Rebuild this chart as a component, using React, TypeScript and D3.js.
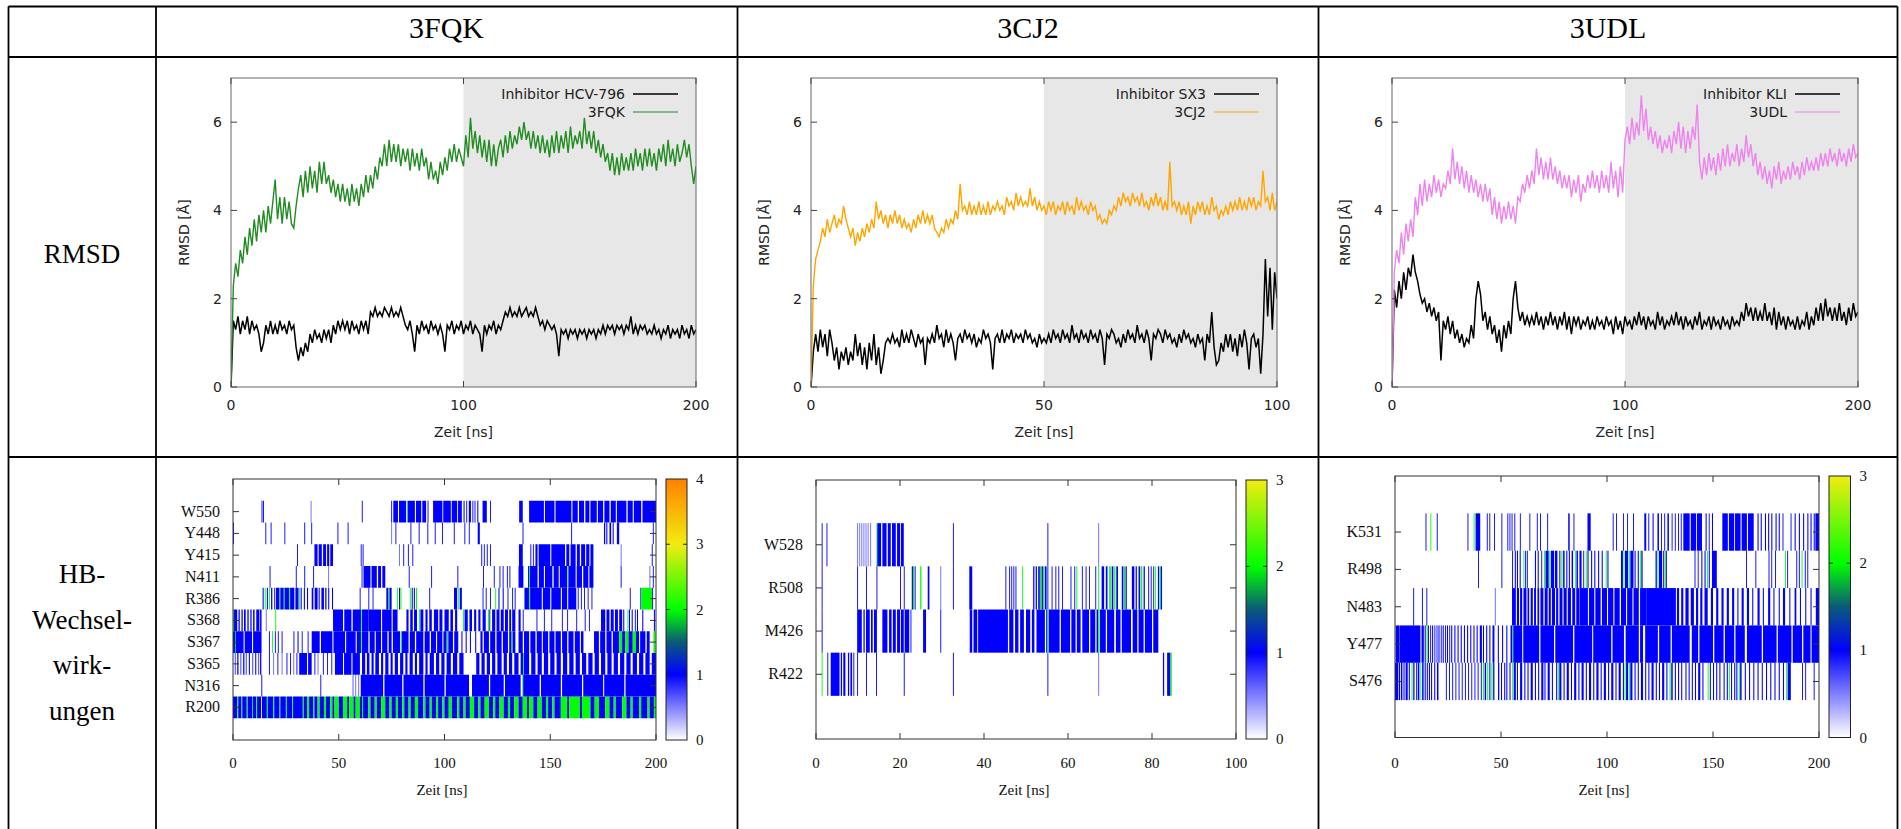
import React from 'react';
import * as d3 from 'd3';

// ---------- RMSD data (Å) ----------
// 3FQK panel, 1 ns steps, 0..200 ns
const rmsdInhibitorHCV796: number[] = [
  0, 1.5, 1.3, 1.6, 1.2, 1.5, 1.3, 1.6, 1.2, 1.5,
  1.3, 1.4, 1.2, 0.8, 1.0, 1.4, 1.2, 1.5, 1.2, 1.4,
  1.2, 1.5, 1.3, 1.4, 1.2, 1.5, 1.3, 1.4, 0.9, 0.6,
  0.9, 0.7, 1.0, 0.8, 1.2, 1.0, 1.3, 1.1, 1.2, 1.0,
  1.3, 1.1, 1.3, 1.0, 1.4, 1.2, 1.5, 1.3, 1.5, 1.3,
  1.5, 1.2, 1.5, 1.3, 1.4, 1.2, 1.5, 1.3, 1.5, 1.2,
  1.7, 1.6, 1.8, 1.6, 1.7, 1.6, 1.8, 1.7, 1.6, 1.8,
  1.6, 1.7, 1.6, 1.8, 1.6, 1.4, 1.3, 1.5, 1.2, 0.8,
  1.4, 1.2, 1.5, 1.3, 1.4, 1.2, 1.5, 1.3, 1.4, 1.2,
  1.4, 1.2, 0.8, 1.4, 1.3, 1.5, 1.2, 1.4, 1.3, 1.5,
  1.2, 1.4, 1.3, 1.5, 1.2, 1.4, 1.3, 1.2, 0.8, 1.4,
  1.2, 1.4, 1.3, 1.5, 1.2, 1.4, 1.3, 1.5, 1.7, 1.6,
  1.8, 1.6, 1.7, 1.6, 1.8, 1.6, 1.7, 1.8, 1.6, 1.7,
  1.6, 1.8, 1.6, 1.4, 1.5, 1.3, 1.5, 1.4, 1.3, 1.4,
  1.2, 0.7, 1.3, 1.2, 1.3, 1.1, 1.3, 1.2, 1.3, 1.1,
  1.3, 1.2, 1.3, 1.1, 1.3, 1.2, 1.3, 1.1, 1.3, 1.2,
  1.4, 1.2, 1.4, 1.3, 1.4, 1.2, 1.4, 1.3, 1.4, 1.2,
  1.4, 1.3, 1.6, 1.2, 1.4, 1.2, 1.4, 1.3, 1.4, 1.2,
  1.3, 1.2, 1.4, 1.2, 1.3, 1.1, 1.3, 1.2, 1.4, 1.1,
  1.3, 1.2, 1.3, 1.1, 1.4, 1.2, 1.3, 1.1, 1.4, 1.2,
  1.3,
];
const rmsd3FQK: number[] = [
  0, 2.3, 2.8, 2.5, 3.1, 2.8, 3.4, 3.0, 3.6, 3.2,
  3.8, 3.3, 3.9, 3.5, 4.0, 3.5, 4.1, 3.7, 4.2, 4.7,
  3.8, 4.3, 3.7, 4.3, 3.8, 4.2, 3.7, 3.6, 4.1, 4.5,
  4.8, 4.3, 4.9, 4.4, 5.0, 4.5, 4.9, 4.4, 5.1, 4.6,
  5.1, 4.6, 4.8, 4.4, 4.7, 4.3, 4.6, 4.2, 4.6, 4.2,
  4.5, 4.1, 4.6, 4.2, 4.5, 4.1, 4.6, 4.3, 4.8, 4.4,
  4.8, 4.5, 5.0, 4.7, 5.2, 5.0, 5.5, 5.0, 5.6, 5.1,
  5.5, 5.1, 5.5, 5.0, 5.4, 5.1, 5.4, 4.9, 5.4, 5.0,
  5.3, 4.9, 5.4, 5.0, 5.2, 4.7, 5.1, 4.7, 4.9, 4.6,
  5.1, 4.8, 5.2, 4.9, 5.4, 5.1, 5.5, 5.1, 5.4, 5.2,
  5.0, 5.7, 5.2, 6.1, 5.4, 5.8, 5.3, 5.7, 5.2, 5.6,
  5.1, 5.6, 5.0, 5.5, 5.0, 5.4, 5.6, 5.2, 5.7, 5.3,
  5.8, 5.4, 5.7, 5.5, 5.9, 5.6, 6.0, 5.6, 5.8, 5.4,
  5.8, 5.4, 5.7, 5.3, 5.7, 5.3, 5.6, 5.2, 5.7, 5.3,
  5.8, 5.3, 5.7, 5.4, 5.8, 5.3, 5.9, 5.4, 5.7, 5.5,
  5.8, 5.4, 6.1, 5.5, 5.8, 5.4, 5.8, 5.3, 5.6, 5.2,
  5.5, 5.1, 5.3, 4.9, 5.3, 4.8, 5.2, 4.8, 5.3, 4.9,
  5.2, 4.9, 5.3, 4.9, 5.4, 5.0, 5.3, 4.9, 5.4, 5.0,
  5.4, 5.0, 5.3, 4.9, 5.4, 5.1, 5.5, 5.0, 5.6, 5.1,
  5.4, 5.0, 5.5, 5.1, 5.3, 5.6, 5.2, 5.5, 5.0, 4.6,
  5.0,
];
// 3CJ2 panel, 0.5 ns steps, 0..100 ns
const rmsdInhibitorSX3: number[] = [
  0, 0.8, 1.2, 0.8, 1.3, 0.9, 1.2, 0.7, 1.3, 1.0,
  0.6, 0.9, 0.4, 0.8, 0.6, 0.9, 0.5, 0.8, 0.6, 1.2,
  0.7, 1.0, 0.5, 0.9, 0.4, 1.0, 0.6, 1.2, 0.5, 0.9,
  0.3, 0.6, 1.0, 1.1, 1.0, 1.2, 1.0, 1.1, 0.9, 1.3,
  1.0, 1.2, 1.0, 1.3, 1.1, 0.9, 1.2, 1.0, 1.1, 0.5,
  1.1, 1.0, 1.2, 1.0, 1.4, 1.1, 1.2, 0.9, 1.3, 1.0,
  1.2, 1.0, 0.6, 1.1, 1.2, 1.0, 1.3, 1.1, 1.2, 1.0,
  1.2, 0.9, 1.1, 1.0, 1.3, 1.1, 1.2, 1.0, 0.4, 1.1,
  1.2, 1.0, 1.3, 1.0, 1.2, 1.1, 1.3, 1.0, 1.2, 1.1,
  1.2, 1.0, 1.3, 1.1, 1.2, 1.0, 1.1, 0.9, 1.2, 1.0,
  1.1, 1.0, 1.2, 1.0, 1.3, 1.1, 1.2, 1.0, 1.3, 1.1,
  1.2, 1.0, 1.4, 1.1, 1.2, 1.0, 1.3, 1.1, 1.2, 1.0,
  1.3, 1.1, 1.2, 1.0, 1.3, 1.1, 0.5, 1.2, 1.1, 1.3,
  1.2, 1.0, 1.1, 0.9, 1.2, 1.0, 1.3, 1.1, 1.2, 1.0,
  1.4, 1.1, 1.2, 1.0, 1.3, 1.1, 0.6, 1.2, 1.1, 1.3,
  1.2, 1.0, 1.3, 1.1, 1.2, 1.0, 1.1, 0.9, 1.2, 1.0,
  1.3, 1.1, 1.2, 1.0, 1.1, 0.9, 1.2, 1.0, 1.1, 0.6,
  1.2, 1.0, 1.7, 0.9, 0.5, 0.6, 1.0, 0.8, 1.2, 0.9,
  1.2, 0.8, 1.1, 0.7, 1.2, 0.9, 1.3, 1.0, 0.4, 1.1,
  1.2, 0.9, 1.1, 0.3, 1.2, 2.9, 1.6, 2.7, 1.3, 2.6,
  2.0,
];
const rmsd3CJ2: number[] = [
  0, 2.3, 2.9, 3.1, 3.3, 3.6, 3.4, 3.8, 3.5, 3.7,
  3.9, 3.6, 3.8, 3.7, 4.1, 3.8, 3.6, 3.4, 3.6, 3.2,
  3.5, 3.3, 3.6, 3.4, 3.7, 3.5, 3.8, 3.6, 4.2, 3.8,
  4.0, 3.7, 3.9, 3.6, 3.9, 3.7, 4.0, 3.7, 3.9, 3.6,
  3.8, 3.6, 3.7, 3.5, 3.8, 3.6, 3.9, 3.7, 4.0, 3.7,
  3.9, 3.7, 3.9, 3.6, 3.5, 3.4, 3.6, 3.5, 3.8, 3.6,
  3.8, 3.7, 4.0, 3.8, 4.6, 4.0, 4.1, 3.9, 4.2, 3.9,
  4.1, 3.9, 4.2, 3.9, 4.1, 3.9, 4.2, 3.9, 4.1, 4.0,
  4.2, 4.0, 4.1, 3.9, 4.3, 4.1, 4.2, 4.0, 4.4, 4.1,
  4.3, 4.1, 4.2, 4.1, 4.5, 4.1, 4.3, 4.0, 4.2, 4.0,
  4.1, 3.9, 4.2, 4.0, 4.2, 3.9, 4.1, 4.0, 4.2, 3.9,
  4.2, 4.0, 4.1, 3.9, 4.3, 4.0, 4.2, 4.0, 4.1, 3.9,
  4.2, 4.0, 4.1, 3.8, 3.9, 3.7, 3.8, 3.7, 4.0, 3.9,
  4.1, 4.0, 4.3, 4.1, 4.4, 4.2, 4.3, 4.1, 4.4, 4.2,
  4.3, 4.1, 4.4, 4.1, 4.2, 4.0, 4.3, 4.1, 4.4, 4.1,
  4.3, 4.0, 4.2, 4.0, 5.1, 4.1, 4.2, 4.0, 4.2, 3.9,
  4.1, 3.9, 4.2, 3.7, 4.1, 3.9, 4.2, 4.0, 4.2, 3.9,
  4.1, 3.9, 4.3, 4.0, 4.1, 3.8, 4.0, 3.9, 4.1, 3.9,
  4.2, 4.0, 4.2, 4.0, 4.3, 4.0, 4.2, 4.0, 4.3, 4.1,
  4.3, 4.0, 4.2, 4.1, 4.9, 4.2, 4.3, 4.0, 4.4, 4.0,
  4.2,
];
// 3UDL panel, 1 ns steps, 0..200 ns
const rmsdInhibitorKLI: number[] = [
  0, 2.2, 1.8, 2.4, 2.0, 2.6, 2.2, 2.7, 2.5, 3.0,
  2.6, 2.4, 2.1, 1.9, 2.0, 1.7, 1.9, 1.6, 1.8, 1.5,
  1.7, 0.6, 1.5, 1.3, 1.6, 1.2, 1.5, 1.1, 1.3, 1.0,
  1.2, 0.9, 1.1, 1.0, 1.4, 1.1, 2.0, 2.4, 2.1, 1.5,
  1.7, 1.3, 1.6, 1.2, 1.4, 1.0, 1.3, 0.8, 1.4, 1.1,
  1.5, 1.2, 2.0, 2.4, 1.8, 1.5, 1.7, 1.4, 1.6, 1.4,
  1.6, 1.4, 1.7, 1.4, 1.6, 1.3, 1.6, 1.4, 1.7, 1.4,
  1.6, 1.3, 1.6, 1.4, 1.7, 1.3, 1.6, 1.2, 1.6, 1.4,
  1.6, 1.3, 1.5, 1.4, 1.6, 1.3, 1.5, 1.3, 1.6, 1.4,
  1.5, 1.3, 1.6, 1.4, 1.5, 1.2, 1.6, 1.3, 1.5, 1.2,
  1.6, 1.4, 1.5, 1.3, 1.6, 1.4, 1.7, 1.4, 1.6, 1.3,
  1.6, 1.4, 1.5, 1.3, 1.7, 1.4, 1.6, 1.3, 1.5, 1.4,
  1.6, 1.4, 1.7, 1.4, 1.6, 1.3, 1.6, 1.4, 1.5, 1.3,
  1.6, 1.4, 1.7, 1.3, 1.5, 1.4, 1.6, 1.3, 1.6, 1.4,
  1.5, 1.3, 1.6, 1.4, 1.5, 1.3, 1.6, 1.4, 1.5, 1.4,
  1.7, 1.5, 1.9, 1.6, 1.8, 1.5, 1.8, 1.5, 1.7, 1.5,
  1.9, 1.5, 1.7, 1.4, 1.8, 1.3, 1.7, 1.4, 1.6, 1.3,
  1.6, 1.4, 1.5, 1.3, 1.6, 1.3, 1.5, 1.4, 1.7, 1.3,
  1.6, 1.4, 1.8, 1.5, 1.9, 1.5, 2.0, 1.6, 1.8, 1.5,
  1.8, 1.5, 1.9, 1.5, 1.7, 1.4, 1.8, 1.5, 1.9, 1.6,
  1.7,
];
const rmsd3UDL: number[] = [
  0, 2.6, 3.1, 2.8, 3.5, 3.0, 3.7, 3.3, 3.8, 3.4,
  4.3, 3.9, 4.6, 4.1, 4.7, 4.2, 4.6, 4.3, 4.8, 4.4,
  4.7, 4.3, 4.6, 4.5, 4.9, 4.6, 5.4, 4.7, 5.1, 4.6,
  5.0, 4.5, 4.9, 4.4, 4.8, 4.4, 4.7, 4.3, 4.6, 4.2,
  4.6, 4.2, 4.5, 3.9, 4.3, 3.8, 4.2, 3.7, 4.1, 3.8,
  4.2, 3.8, 4.1, 3.7, 4.3, 4.2, 4.6, 4.4, 4.8, 4.5,
  4.9, 4.6, 5.4, 4.8, 5.2, 4.7, 5.1, 4.7, 5.2, 4.7,
  5.0, 4.6, 4.9, 4.5, 4.8, 4.5, 4.8, 4.3, 4.7, 4.4,
  4.8, 4.2, 4.6, 4.4, 4.8, 4.5, 4.9, 4.5, 4.8, 4.4,
  4.9, 4.5, 4.8, 4.4, 5.1, 4.5, 4.9, 4.3, 5.0, 4.4,
  5.6, 5.9, 5.5, 6.1, 5.6, 6.0, 5.7, 6.6, 5.8, 6.3,
  5.6, 5.9, 5.5, 5.8, 5.4, 5.7, 5.3, 5.6, 5.4, 5.7,
  5.3, 5.8, 5.5, 6.0, 5.4, 5.9, 5.3, 5.8, 5.4, 5.9,
  5.6, 6.4, 5.1, 4.7, 5.2, 4.8, 5.3, 4.9, 5.2, 4.8,
  5.3, 4.9, 5.4, 5.0, 5.5, 5.0, 5.3, 5.1, 5.5, 5.0,
  5.4, 5.1, 5.7, 5.2, 5.5, 5.0, 5.3, 4.8, 5.1, 4.7,
  5.0, 4.6, 4.9, 4.5, 5.0, 4.7, 5.1, 4.6, 4.9, 4.7,
  5.0, 4.7, 5.1, 4.8, 5.0, 4.7, 5.1, 4.8, 5.2, 4.9,
  5.1, 4.9, 5.2, 4.9, 5.3, 5.0, 5.3, 5.0, 5.4, 5.1,
  5.3, 5.0, 5.4, 5.1, 5.3, 5.0, 5.4, 5.1, 5.5, 5.2,
  5.3,
];

// ---------- HB interaction data: [start ns, end ns, number of H-bonds] ----------
type Seg = [number, number, number];
const hbResidues3FQK = ['R200', 'N316', 'S365', 'S367', 'S368', 'R386', 'N411', 'Y415', 'Y448', 'W550'];
const hbR200: Seg[] = [[0,2,1],[2,2.5,2],[2.5,4,1],[4,4.4,2],[4.4,6.5,1],[6.5,7,2],[7,9,1],[9,9.4,2],[9.4,11,1],[11,11.4,2],[11.4,13.3,1],[13.3,13.7,3],[13.7,16,1],[16,16.5,2],[16.5,19,1],[19,19.5,2],[19.5,22,1],[22,22.4,2],[22.4,25,1],[25,25.5,2],[25.5,28,1],[28,28.4,2],[28.4,33,1],[33,33.5,2],[33.5,35,1],[35,36,2],[36,38,1],[38,38.5,2],[38.5,40,1],[40,41,2],[41,43,1],[43,44,2],[44,46,1],[46,47,2],[47,48,1],[48,50,2],[50,52,1],[52,54,2],[54,55,1],[55,57,2],[57,58,1],[58,60,2],[60,61,1],[61,61.5,2],[61.5,64,1],[64,65,2],[65,67,1],[67,68,2],[68,70,1],[70,72,2],[72,74,1],[74,75,2],[75,77,1],[77,78,2],[78,80,1],[80,81,2],[81,83,1],[83,84,2],[84,86,1],[86,87.5,2],[87.5,90,1],[90,91,2],[91,93,1],[93,94,2],[94,96,1],[96,97,2],[97,99,1],[99,100,2],[100,102,1],[102,103.5,2],[103.5,106,1],[106,107,2],[107,109,1],[109,110,2],[110,112,1],[112,114,2],[114,116,1],[116,117,2],[117,119,1],[119,121,2],[121,123,1],[123,124,2],[124,126,1],[126,128,2],[128,130,1],[130,131,2],[131,133,1],[133,135,2],[135,137,1],[137,139,2],[139,140,1],[140,142,2],[142,144,1],[144,146,2],[146,148,1],[148,149,2],[149,151,1],[151,152,2],[152,155,1],[155,158,2],[158,159,1],[159,164,2],[164,165,1],[165,169,2],[169,171,1],[171,173,2],[173,176,1],[176,178,2],[178,180,1],[180,181,2],[181,184,1],[184,186,2],[186,188,1],[188,189,2],[189,192,1],[192,193,2],[193,196,1],[196,197,2],[197,199,1],[199,200,2]];
const hbN316: Seg[] = [[13.4,13.8,1],[41.3,41.6,1],[56.5,57,0.6],[57.8,58.2,0.6],[59.2,59.6,0.6],[60.4,71,1],[71.6,80,1],[80.6,90,1],[90.6,100,1],[100.6,111.6,1],[113,121,1],[121.6,128,1],[128.6,136,1],[136.8,137.2,2],[137.2,145,1],[145.6,155,1],[155.6,165,1],[165.6,175,1],[175.5,185,1],[185.6,200,1]];
const hbS365: Seg[] = [[0.8,1.4,0.6],[2,2.6,1],[3.4,4,0.6],[4.8,5.4,1],[6,6.6,0.6],[7.5,8,1],[9,9.6,0.6],[10.5,11,1],[11.8,12.4,0.6],[12.8,13.4,1],[17,17.4,1],[19,19.4,0.6],[21,21.4,1],[23,23.4,0.6],[25.3,25.7,1],[27,27.4,1],[28.5,28.9,0.6],[30,30.4,1],[31.3,35,1],[35.5,37.2,1],[38.5,38.9,1],[40,40.4,0.6],[42.5,42.9,1],[44.5,44.9,1],[46.5,46.9,1],[48.2,52,1],[52.5,56,1],[56.5,60,1],[61,62.5,1],[63.3,64.5,1],[65.5,66.5,1],[67.3,69,1],[70,71,1],[72,73.5,1],[74.5,75.5,1],[76.5,78,1],[79,80.5,1],[81.5,82.5,1],[83.5,85,1],[86,87,1],[88,90,1],[91,92,1],[93,95,1],[96,97.5,1],[98.5,100,1],[101,103,1],[104,106,1],[107,109,1],[115,116.5,1],[117.5,119,1],[120,121.5,1],[122.5,124,1],[125,127,1],[128,129.5,1],[130.5,132,1],[133,135,1],[136,137.3,1],[137.3,137.6,2],[137.6,140,1],[141,143,1],[144,146,1],[147,149,1],[150,152,1],[153,155,1],[156,158,1],[159,161,1],[162,164,1],[165,167,1],[168,170,1],[171,173,1],[174,176,1],[177,179,1],[180,182,1],[183,185,1],[186,188,1],[189,191,1],[192,194,1],[195,197,1],[198,200,1]];
const hbS367: Seg[] = [[0,1,1],[1,1.3,2],[1.3,5,1],[5.5,9,1],[9.5,13.5,1],[17,17.4,1],[18.5,18.9,2],[19.8,20.2,1],[21.2,21.6,1],[23,23.4,1],[28.6,29,1],[30.5,31,1],[32.5,32.9,1],[35.3,35.7,1],[37.2,41,1],[41.6,47,1],[47.5,53,1],[53.5,58,1],[58.5,60.5,1],[60.6,61,2],[61,64,1],[64.6,67,1],[67.5,70,1],[70.5,73,1],[73.6,75,1],[75.6,79,1],[79.3,79.7,2],[79.8,83,1],[83.6,86,1],[86.6,90,1],[90.6,93,1],[93.6,96,1],[96.5,99,1],[99.5,101,1],[101.2,101.6,2],[101.8,104,1],[104.6,106.5,1],[108,108.5,1],[110,110.5,1],[112,112.5,1],[114.5,115,1],[117,118,1],[118.6,121,1],[121.6,124,1],[124.6,127,1],[127.6,130,1],[130.6,131.7,1],[131.7,132.1,2],[132.2,133.5,1],[135,137,1],[137.6,140,1],[140.6,143,1],[143.6,146,1],[146.5,149,1],[149.6,152,1],[152.5,155,1],[155.6,158,1],[158.6,161,1],[161.6,164,1],[164.5,165.7,1],[170.7,173,1],[173.6,176,1],[176.6,179,1],[179.6,182.6,1],[182.6,184,2],[184,185.5,1],[185.5,187,2],[187,189,1],[189,190.5,2],[190.5,192,1],[192.5,195,1],[195.6,197,1],[198.8,199.8,2]];
const hbS368: Seg[] = [[0,0.5,2],[0.5,2,1],[2.6,3.2,1],[4,4.6,1],[5.2,6,1],[6.8,7.4,1],[8.2,8.8,1],[9.5,10.2,1],[11,12.5,1],[12.8,13.5,1],[15.5,15.9,0.6],[20,20.4,2],[47.3,52,1],[52.6,56,1],[56.6,60.5,1],[60.6,61,2],[61,64,1],[64,70,1],[70.5,75,1],[75.5,77.8,1],[82,83,1],[83.8,85,1],[85.6,87,1],[88,88.4,2],[88.6,90,1],[91,92,1],[92.8,94,1],[95,97,1],[97.6,99,1],[100,102,1],[102.8,104,1],[105,106,1],[108.8,109.3,2],[109.5,111,1],[111.8,113,1],[114,115,1],[116,117,1],[118,119.5,1],[120.5,121,2],[121.2,121.6,1],[122.5,124,1],[124.6,126,1],[126.6,128,1],[128.6,130,1],[130.6,131.5,1],[132,133.5,1],[135,136,1],[137,137.3,1],[143.5,143.8,1],[147,147.3,1],[150.5,150.9,1],[155.5,155.9,1],[158,158.3,1],[162.3,162.7,1],[166.3,166.7,1],[168.3,168.7,1],[174,176,1],[176.6,178,1],[178.6,180,1],[180.6,182,1],[182.6,184,1],[184.5,185,1],[186.5,186.9,2],[187.2,187.7,1],[188.5,189,1],[190,190.4,1],[191,191.5,1],[193.5,194,1],[199,199.5,1]];
const hbR386: Seg[] = [[14,14.5,1],[15,15.4,2],[16,16.5,1],[17,17.4,2],[18,18.6,1],[19.5,19.9,1],[20.3,22,1],[22,22.4,2],[22.4,24,1],[24,24.4,2],[24.4,26.5,1],[26.5,26.9,2],[27,29,1],[29.5,31,1],[31.3,31.7,2],[32,32.5,1],[33.5,34,1],[35,35.5,1],[37.2,38,1],[38.6,40,1],[40.5,41,1],[41.8,43,1],[43.6,44.2,1],[45,45.5,1],[46.8,47.3,1],[59.9,60.2,1],[64,64.3,1],[66,66.3,1],[72.5,73.5,1],[73.5,74,2],[74,75,1],[77.6,78,2],[78.5,79,1],[79.2,79.6,2],[83.6,84,2],[84.5,85,1],[85.5,86,1],[86.5,87,2],[92.8,93.2,1],[104.5,106,1],[106.5,106.9,2],[107.2,108.2,1],[118,118.4,1],[119.5,119.9,1],[121.5,121.9,1],[124,124.4,2],[125.5,126,1],[127.5,128,1],[129.8,130.2,1],[132,132.4,1],[133.2,133.6,1],[137.8,140,1],[140,140.5,2],[140.5,146,1],[146.5,150,1],[150.5,155,1],[155.5,158,1],[158.5,162.3,1],[163,163.4,1],[164.5,164.9,1],[166,166.4,1],[167.7,168.1,1],[169.5,169.9,1],[187.6,187.9,1],[192.6,193,1],[193,198.2,2],[198.2,198.6,1]];
const hbN411: Seg[] = [[17.3,17.6,1],[29.7,30,1],[33.7,34,1],[37.9,38.2,1],[45,45.3,0.6],[60.8,61.1,1],[61.7,65,1],[65.5,68,1],[68.6,70,1],[70.6,72,1],[83.1,83.4,1],[93.7,94,1],[106.1,106.4,1],[118.2,118.5,1],[123.3,123.6,1],[126,126.4,1],[127.5,127.9,1],[129.5,129.9,1],[130.7,131.1,1],[135,137.3,1],[139.5,140,1],[140,140.4,2],[140.4,144,1],[144.6,147,1],[147.5,151,1],[151.6,154,1],[154.5,158,1],[158.2,158.6,2],[158.6,162,1],[162.5,165,1],[165.6,168,1],[168.5,170.4,1],[183.3,183.6,1],[196.9,197.2,0.6],[198.5,198.8,1]];
const hbY415: Seg[] = [[30.3,30.6,1],[38.5,40,1],[40.5,42,1],[42.6,44,1],[44.5,45.5,1],[46,47.3,1],[60.4,60.7,1],[61.3,61.6,1],[78.5,78.8,0.6],[80.5,80.8,1],[82.7,83,1],[84.8,85.1,1],[117.4,117.8,1],[118.6,119,1],[120,120.4,1],[121.5,121.9,1],[135.2,137,1],[140.6,141,1],[141.8,142.2,1],[143,144,1],[144.5,150,1],[150.5,157,1],[157.6,159,1],[159.6,162,1],[162.6,164,1],[164.6,166.5,1],[167,168.5,1],[169,170.4,1],[183.3,183.6,0.6],[198,198.4,1]];
const hbY448: Seg[] = [[0,0.4,1],[15.3,15.6,1],[17.8,18.1,1],[24.3,24.6,1],[33.7,34,1],[37,37.3,1],[49.4,49.7,1],[54.2,54.5,1],[74.8,75.1,0.6],[76.8,77.1,1],[83.9,84.2,1],[87.8,88.1,1],[91.9,92.2,1],[95.4,95.7,1],[98.8,99.1,1],[104.4,104.7,1],[109.4,109.7,1],[111.5,111.8,1],[115.7,116.7,1],[136.9,137.2,1],[159.9,160.2,1],[175.4,176,1],[176.5,177,1],[178,178.8,1],[179.5,180,1],[181.5,182.6,1],[198.5,198.8,1]];
const hbW550: Seg[] = [[13.5,13.8,1],[14.2,14.5,1],[36.7,37,0.6],[60.9,61.2,1],[74.8,75.2,1],[75.8,78,1],[78.5,81.8,1],[82.1,82.5,2],[82.6,86,1],[86.5,89,1],[89.5,91.3,1],[92,92.4,1],[94.6,99,1],[99.4,103,1],[103.4,106,1],[106.4,108.2,1],[109,109.5,1],[110.3,110.7,1],[111.5,112.5,1],[113.2,113.6,1],[114.2,114.6,1],[115.5,116,1],[118,120,1],[121.5,121.9,1],[135.3,137,1],[140,147,1],[147.5,152,1],[152.5,160,1],[160.5,163,1],[163.6,166,1],[166.6,168.5,1],[169,172,1],[172.5,175,1],[175.6,178,1],[178.6,181,1],[181.5,186,1],[186.6,189,1],[189.5,193,1],[193.6,200,1]];

const hbResidues3CJ2 = ['R422', 'M426', 'R508', 'W528'];
const hbR422: Seg[] = [[1.35,1.55,2],[2.7,2.9,1],[3.5,5.6,1],[5.9,6.2,1],[6.5,7,1],[7.6,7.9,1],[8.2,8.6,1],[8.9,9.1,1],[9.8,10,1],[11.9,12.1,1],[14.3,14.5,1],[20.9,21.1,1],[32.6,32.8,1],[55.1,55.3,1],[67.2,67.4,0.6],[82.6,82.9,1],[83.6,84.4,1],[84.4,84.7,2]];
const hbM426: Seg[] = [[1.35,1.55,1],[9.8,10.9,1],[11.3,11.6,1],[11.9,12.8,1],[13.1,13.5,1],[13.8,14.5,1],[15.8,17,1],[17.4,18,1],[18.3,19,1],[19.3,20,1],[20.2,20.9,1],[21.1,22.2,1],[22.5,22.7,1],[25.5,26.2,1],[29.6,29.8,1],[36.6,37.2,1],[37.5,38.4,1],[38.6,45.7,1],[46,47,1],[47.4,48.2,1],[48.6,49.5,1],[50,51,1],[51.4,52,1],[52.5,54.5,1],[54.8,55.1,1],[55.1,55.3,2],[55.4,58,1],[58.3,60.5,1],[60.8,61.8,1],[62.1,63,1],[63.4,65,1],[65.3,66.5,1],[66.8,67.2,1],[67.2,67.5,2],[67.6,69,1],[69.3,71,1],[71.4,72.5,1],[72.8,75,1],[75.4,76.5,1],[76.8,78,1],[78.3,80,1],[80.3,81.5,1]];
const hbR508: Seg[] = [[1.35,1.55,1],[9.8,10,1],[11.9,12.1,1],[14.4,14.6,1],[20,20.2,1],[20.9,21.1,1],[22.8,23.1,1],[23.1,23.4,2],[23.5,23.7,1],[24.8,25.1,2],[26.6,27,1],[29.6,29.8,0.6],[32.6,32.8,1],[36.5,37.2,1],[45.1,45.3,1],[46,46.2,1],[46.5,46.7,1],[47,47.2,1],[47.5,47.7,1],[49.1,49.3,2],[51.7,52,1],[52.3,52.6,1],[52.9,53.3,1],[53.3,53.6,2],[53.7,54.1,1],[54.1,54.4,2],[54.5,54.9,1],[55.1,55.3,1],[56.1,56.3,1],[57,57.2,1],[57.7,57.9,1],[58.6,58.8,1],[60.6,60.8,1],[61.5,61.7,1],[62,62.2,2],[63.3,63.5,1],[64.2,64.4,1],[65,65.2,1],[66.5,66.7,1],[67.2,67.4,2],[68,68.6,1],[69,69.4,1],[69.8,70.2,2],[70.4,70.8,1],[71,71.3,2],[71.5,71.9,1],[72.8,73.2,1],[73.3,73.6,2],[73.7,74,1],[75.2,75.8,1],[76.1,76.4,1],[76.8,77.2,1],[77.4,77.7,2],[78,78.3,1],[79.1,79.3,1],[79.7,79.9,1],[80.3,80.5,1],[80.7,80.9,2],[81.4,81.7,1],[81.8,82.1,2],[82.1,82.4,1]];
const hbW528: Seg[] = [[1.35,1.55,1],[2.5,2.7,1],[9.8,10,0.6],[10.3,10.5,0.6],[10.8,11,0.6],[11.3,11.5,0.6],[11.8,12,0.6],[12.3,12.5,0.6],[12.9,13.1,0.6],[14.4,14.6,2],[14.6,15.5,1],[15.8,16.8,1],[17.1,17.8,1],[18.1,19,1],[19.3,20,1],[20.2,20.9,1],[32.6,32.8,1],[55.1,55.3,1],[67.2,67.4,0.6]];

const hbResidues3UDL = ['S476', 'Y477', 'N483', 'R498', 'K531'];
const hbS476: Seg[] = [[0,1.5,1],[1.8,2.4,1],[2.8,3.5,1],[4,4.5,1],[5,6,1],[6.5,7,1],[7.8,8.2,2],[8.6,9.2,1],[10,10.5,1],[10.8,11.5,1],[12,12.4,2],[12.8,13.5,1],[14,14.5,1],[15,15.5,1],[16,16.5,1],[17,17.5,1],[18.5,19,1],[19.8,20.5,1],[24,24.4,1],[25.5,25.9,1],[27,27.4,1],[28.5,28.9,1],[30,30.4,1],[31.5,31.9,1],[33,33.4,1],[34.5,34.9,1],[36,36.4,1],[37.5,37.9,1],[39,39.4,1],[40.5,40.9,1],[41.5,41.9,2],[42.3,43,1],[43.5,44,2],[44.5,45,1],[45.5,46,2],[46.3,46.9,1],[48.6,49.2,1],[50,50.5,1],[51.5,52,1],[52.5,53,1],[54,54.5,1],[55.3,55.7,2],[56,57,1],[57.5,58,1],[59,60,1],[61,61.5,1],[62.5,63,1],[64,65,1],[66,66.5,1],[67.5,68,1],[69,70,1],[70.5,71,1],[72,73,1],[74,74.5,1],[76,76.5,1],[76.8,77.2,2],[77.5,78.5,1],[79.5,80,1],[81,82,1],[83,83.5,1],[84.5,85.5,1],[86.5,87,1],[88,89,1],[90,90.5,1],[91.5,92.5,1],[93.5,94,1],[95,96,1],[97,97.5,1],[98.5,99.5,1],[100.5,101,1],[102,103,1],[104,104.5,1],[105.5,106.5,1],[107.5,108,1],[108.3,108.7,2],[109,110,1],[110.5,110.9,2],[111,112,1],[113,113.5,1],[114.5,115,1],[116,117,1],[118,118.5,1],[119.5,120,1],[121,122,1],[123,123.5,1],[124.5,125,1],[126,127,1],[128,128.5,1],[129.5,130,2],[130.3,131,1],[132,132.5,1],[133.5,134,1],[135,135.5,1],[137,137.5,1],[138.5,139,1],[140,140.5,1],[141.5,142,1],[143,144,1],[145,145.5,1],[147.5,147.9,2],[148.5,149,1],[150,150.5,1],[151.5,152,1],[153,153.5,1],[155,155.5,1],[156.5,157,1],[157.5,157.9,2],[158.5,159,1],[160,160.5,1],[161,161.5,1],[162.2,162.6,2],[162.8,163.5,1],[165,165.5,1],[167,167.5,1],[169,169.5,1],[171,171.5,1],[173,173.5,1],[175,175.5,1],[177,177.5,1],[179,179.5,1],[181,181.5,1],[183,183.5,1],[184.5,184.9,2],[185.2,186.7,1],[192,192.4,1],[193.5,193.9,1],[197.5,197.9,1]];
const hbY477: Seg[] = [[0.3,2.2,1],[2.3,12,1],[12.5,13.6,1],[14,14.5,1],[14.9,15.2,2],[15.5,16,1],[16.6,17,1],[17.5,18,1],[18.6,19,1],[19.6,20,1],[20.5,21,1],[21.6,22,1],[22.5,23,1],[23.6,24,1],[24.5,25,1],[25.6,26,1],[26.5,27,1],[28,28.5,1],[29.5,30,1],[31,31.5,1],[32.5,33,1],[34,34.5,1],[35.5,36,1],[37,37.5,1],[38.5,39,1],[40,41,1],[41.5,42,1],[43,43.5,1],[44.5,45,1],[46,46.9,1],[48.5,49,1],[50.5,51,1],[52.5,53,1],[54.5,55.4,1],[55.4,55.8,2],[55.8,60,1],[60.5,68,1],[68.6,75,1],[75.6,84,1],[84.6,93,1],[93.5,102,1],[102.6,108,1],[108.8,115,1],[115.6,117,1],[118,124,1],[124.6,130,1],[130.6,139,1],[140,143,1],[143.6,150,1],[150.6,155,1],[155.6,160,1],[160.6,165,1],[166,173,1],[173.6,180,1],[180.6,187,1],[187.6,192,1],[192.6,196,1],[196.5,200,1]];
const hbN483: Seg[] = [[8.6,8.9,1],[12.7,13,1],[14.8,15.1,1],[47.1,47.4,0.6],[55.2,57,1],[57.5,58.5,1],[59,60,1],[60.6,62,1],[62.5,63.3,1],[64,65,1],[65.6,66.5,1],[67.2,68,1],[68.6,70,1],[70.6,72,1],[72.5,73.5,1],[74,75.5,1],[76,77,1],[77.6,79,1],[79.5,81,1],[81.5,83,1],[83.6,85,1],[85.5,87,1],[87.1,91,1],[91.5,94,1],[94.5,97,1],[97.6,100,1],[100.5,103,1],[103.5,106,1],[106.6,109,1],[109.5,112,1],[112.5,115,1],[115.6,118.5,1],[118.5,132.5,1],[133,134,1],[135,136,1],[137,138.5,1],[139.5,141,1],[142,143,1],[144,145,1],[146,147.5,1],[149,150,1],[151.5,152.5,1],[154,155,1],[156.5,157.5,1],[159,160,1],[161.5,162,1],[163.5,164.5,1],[166,167,1],[168.5,169,1],[171,172,1],[173.5,174,1],[176,177,1],[178.5,179,1],[181,181.5,1],[183,184,1],[186,186.5,1],[188.5,189.3,1],[191,191.5,1],[193.5,194,1],[196,196.5,1],[198.5,200,1]];
const hbR498: Seg[] = [[39.2,39.5,1],[50.2,50.5,1],[55.2,55.6,1],[56.5,57,1],[57.5,58,1],[58.8,59.3,1],[60.6,61,2],[61.4,61.8,1],[62.2,62.6,1],[66,66.5,1],[67.3,67.8,1],[69,69.4,1],[70.3,70.7,2],[71,72.5,1],[72.8,73.2,2],[73.5,75,1],[75.4,76.6,1],[77.5,78,1],[78.5,79,2],[79.3,80,1],[80.8,81.3,1],[82,82.5,1],[83.3,84,1],[85,85.4,2],[85.6,86.3,1],[87,88,1],[88.8,89.2,1],[90,90.4,2],[90.8,91.3,1],[92.5,93,1],[94,94.5,1],[95.8,96.3,1],[97.5,98,1],[99.4,99.8,2],[100.2,100.7,1],[106.6,107.5,1],[107.8,108.2,2],[108.5,110,1],[110.3,110.7,2],[111,112.5,1],[113,113.5,1],[114.5,115,1],[115.5,115.9,2],[116.2,116.8,1],[122.9,123.5,1],[123.8,124.2,2],[124.5,126,1],[126.5,127,1],[127.3,127.7,2],[127.8,128.1,1],[141.3,141.7,1],[142.8,143.2,1],[144.5,145,1],[146,146.5,1],[147.2,147.6,2],[148,148.5,1],[149.5,151.8,1],[165.6,165.9,1],[170,170.3,1],[176.2,176.6,1],[177.5,177.9,1],[179.3,179.7,1],[184,184.4,2],[185,185.4,1],[189.3,189.7,1],[190.5,190.9,1],[191.8,192.2,2],[193.3,193.7,1],[194.5,194.8,1]];
const hbK531: Seg[] = [[14.4,14.7,1],[16.7,17,2],[19.7,20,1],[34.2,34.5,1],[37.1,37.4,2],[38,40.2,1],[43.3,43.6,1],[44.5,44.8,1],[46.7,47,1],[50.2,50.5,1],[53,53.3,1],[54,54.3,1],[55,55.3,1],[56.3,56.6,1],[58.9,59.2,1],[63.4,63.7,1],[66.9,67.2,1],[68.4,68.7,1],[71.8,72.1,1],[81.7,82.4,1],[84.2,84.5,1],[90.8,92.3,1],[102.7,103,1],[104.3,104.6,1],[107.6,108,1],[109.5,109.8,1],[112.3,112.6,1],[117.6,118.5,1],[119.5,119.8,1],[121.5,122,1],[123.8,124.5,1],[125.5,125.8,1],[127,127.3,1],[128.5,129.2,1],[130.5,130.8,1],[132,132.3,1],[133.5,133.8,1],[134.8,135.1,1],[136,139,1],[139.5,142,1],[142.4,144.8,1],[146.5,147,1],[148,148.3,1],[149.5,150,1],[154.4,157,1],[157.5,160,1],[160.4,163,1],[163.5,166,1],[166.5,169.2,1],[171,171.5,1],[172.5,173,1],[174.5,175,1],[176,176.5,1],[177.5,178,1],[179.5,180,1],[181,181.5,1],[182.8,183.2,1],[186.6,187,1],[188.5,189,1],[190.5,191,1],[192.5,193,1],[194.5,195,1],[196,196.5,1],[197.5,198,1],[198.3,200,1]];

// ---------- table labels ----------
const columnTitles = ['3FQK', '3CJ2', '3UDL'];
const rowTitleRMSD = 'RMSD';
const rowTitleHB = ['HB-', 'Wechsel-', 'wirk-', 'ungen'];

const SANS = '"DejaVu Sans", Verdana, sans-serif';
const SERIF = '"Liberation Serif", "Times New Roman", serif';

const hbColor = d3.scaleLinear<string>()
  .domain([0, 1, 1.5, 2, 3, 4])
  .range(['#ffffff', '#0000ff', '#0b5a78', '#00ff00', '#f2ec10', '#ff8000'])
  .clamp(true);

interface RmsdCfg {
  left: number; right: number; xMax: number; shadeFrom: number; ticks: number[]; dt: number;
  inhibitor: number[]; protein: number[]; color: string; labels: [string, string];
}

const rmsdPanels: RmsdCfg[] = [
  { left: 231, right: 696, xMax: 200, shadeFrom: 100, ticks: [0, 100, 200], dt: 1,
    inhibitor: rmsdInhibitorHCV796, protein: rmsd3FQK, color: '#228b22', labels: ['Inhibitor HCV-796', '3FQK'] },
  { left: 811, right: 1277, xMax: 100, shadeFrom: 50, ticks: [0, 50, 100], dt: 0.5,
    inhibitor: rmsdInhibitorSX3, protein: rmsd3CJ2, color: '#ffa500', labels: ['Inhibitor SX3', '3CJ2'] },
  { left: 1392, right: 1858, xMax: 200, shadeFrom: 100, ticks: [0, 100, 200], dt: 1,
    inhibitor: rmsdInhibitorKLI, protein: rmsd3UDL, color: '#ee82ee', labels: ['Inhibitor KLI', '3UDL'] },
];

function RmsdPanel({ c, idx }: { c: RmsdCfg; idx: number }) {
  const top = 78, bottom = 387;
  const x = d3.scaleLinear().domain([0, c.xMax]).range([c.left, c.right]);
  const y = d3.scaleLinear().domain([0, 7]).range([bottom, top]);
  const line = d3.line<number>().x((_, i) => x(i * c.dt)).y(d => y(d));
  const yTicks = [0, 2, 4, 6];
  const legendY = [94, 112];
  return (
    <g>
      <defs>
        <clipPath id={`rc${idx}`}><rect x={c.left} y={top} width={c.right - c.left} height={bottom - top} /></clipPath>
      </defs>
      <rect x={x(c.shadeFrom)} y={top} width={c.right - x(c.shadeFrom)} height={bottom - top} fill="#e7e7e7" />
      <g clipPath={`url(#rc${idx})`}>
        <path d={line(c.inhibitor) || ''} fill="none" stroke="#000" strokeWidth={1.5} strokeLinejoin="miter" />
        <path d={line(c.protein) || ''} fill="none" stroke={c.color} strokeWidth={1.4} strokeLinejoin="miter" />
      </g>
      <rect x={c.left} y={top} width={c.right - c.left} height={bottom - top} fill="none" stroke="#666" strokeWidth={1} />
      {yTicks.map(t => (
        <g key={t}>
          <line x1={c.left} x2={c.left + 6} y1={y(t)} y2={y(t)} stroke="#444" />
          <text x={c.left - 9} y={y(t) + 5} textAnchor="end" fontFamily={SANS} fontSize={14} fill="#222">{t}</text>
        </g>
      ))}
      {c.ticks.map(t => (
        <g key={t}>
          <line x1={x(t)} x2={x(t)} y1={bottom} y2={bottom - 6} stroke="#444" />
          <line x1={x(t)} x2={x(t)} y1={top} y2={top + 6} stroke="#444" />
          <text x={x(t)} y={410} textAnchor="middle" fontFamily={SANS} fontSize={14} fill="#222">{t}</text>
        </g>
      ))}
      <text x={(c.left + c.right) / 2} y={437} textAnchor="middle" fontFamily={SANS} fontSize={14} fill="#222">Zeit [ns]</text>
      <text transform={`translate(${c.left - 42},${(top + bottom) / 2}) rotate(-90)`} textAnchor="middle"
        fontFamily={SANS} fontSize={14} fill="#222">RMSD [Å]</text>
      {c.labels.map((lab, i) => (
        <g key={lab}>
          <text x={c.right - 71} y={legendY[i] + 5} textAnchor="end" fontFamily={SANS} fontSize={14} fill="#222">{lab}</text>
          <line x1={c.right - 63} x2={c.right - 18} y1={legendY[i]} y2={legendY[i]}
            stroke={i === 0 ? '#000' : c.color} strokeWidth={i === 0 ? 1.3 : 1} />
        </g>
      ))}
    </g>
  );
}

interface HbCfg {
  left: number; right: number; top: number; bottom: number; xMax: number; xTicks: number[];
  residues: string[]; rows: Seg[][]; cbLeft: number; cbRight: number; cbMax: number; labelX: number;
}

const hbPanels: HbCfg[] = [
  { left: 233, right: 656, top: 479, bottom: 740, xMax: 200, xTicks: [0, 50, 100, 150, 200],
    residues: hbResidues3FQK, rows: [hbR200, hbN316, hbS365, hbS367, hbS368, hbR386, hbN411, hbY415, hbY448, hbW550],
    cbLeft: 666, cbRight: 687, cbMax: 4, labelX: 442 },
  { left: 816, right: 1236, top: 480, bottom: 739, xMax: 100, xTicks: [0, 20, 40, 60, 80, 100],
    residues: hbResidues3CJ2, rows: [hbR422, hbM426, hbR508, hbW528],
    cbLeft: 1246, cbRight: 1267, cbMax: 3, labelX: 1024 },
  { left: 1395, right: 1819, top: 476, bottom: 737.5, xMax: 200, xTicks: [0, 50, 100, 150, 200],
    residues: hbResidues3UDL, rows: [hbS476, hbY477, hbN483, hbR498, hbK531],
    cbLeft: 1829, cbRight: 1850.5, cbMax: 3, labelX: 1604 },
];

function HbPanel({ c, idx }: { c: HbCfg; idx: number }) {
  const n = c.residues.length;
  const x = d3.scaleLinear().domain([0, c.xMax]).range([c.left, c.right]);
  const y = d3.scaleLinear().domain([-1.5, n + 0.5]).range([c.bottom, c.top]);
  const cb = d3.scaleLinear().domain([0, c.cbMax]).range([c.bottom, c.top]);
  const stops = d3.range(0, c.cbMax + 0.001, 0.125);
  const cbTicks = d3.range(0, c.cbMax + 1);
  return (
    <g>
      <defs>
        <linearGradient id={`cbg${idx}`} x1="0" y1="1" x2="0" y2="0">
          {stops.map(s => <stop key={s} offset={s / c.cbMax} stopColor={hbColor(s)} />)}
        </linearGradient>
      </defs>
      {c.rows.map((segs, r) => (
        <g key={r}>
          {segs.map((s, k) => {
            const x0 = x(s[0]);
            const w = Math.max(0.9, x(s[1]) - x0);
            return <rect key={k} x={x0} y={y(r + 0.5)} width={w} height={y(r - 0.5) - y(r + 0.5)} fill={hbColor(s[2])} />;
          })}
        </g>
      ))}
      <rect x={c.left} y={c.top} width={c.right - c.left} height={c.bottom - c.top} fill="none" stroke="#333" strokeWidth={1} />
      {c.residues.map((name, r) => (
        <g key={name}>
          <line x1={c.left} x2={c.left + 6} y1={y(r)} y2={y(r)} stroke="#333" />
          <line x1={c.right} x2={c.right - 6} y1={y(r)} y2={y(r)} stroke="#333" />
          <text x={c.left - 13} y={y(r) + 5} textAnchor="end" fontFamily={SERIF} fontSize={16} fill="#111">{name}</text>
        </g>
      ))}
      {c.xTicks.map(t => (
        <g key={t}>
          <line x1={x(t)} x2={x(t)} y1={c.bottom} y2={c.bottom - 6} stroke="#333" />
          <line x1={x(t)} x2={x(t)} y1={c.top} y2={c.top + 6} stroke="#333" />
          <text x={x(t)} y={768} textAnchor="middle" fontFamily={SERIF} fontSize={15} fill="#111">{t}</text>
        </g>
      ))}
      <text x={c.labelX} y={795} textAnchor="middle" fontFamily={SERIF} fontSize={15} fill="#111">Zeit [ns]</text>
      <rect x={c.cbLeft} y={c.top} width={c.cbRight - c.cbLeft} height={c.bottom - c.top} fill={`url(#cbg${idx})`} stroke="#222" strokeWidth={1} />
      {cbTicks.map(t => (
        <g key={t}>
          {t > 0 && t < c.cbMax && (
            <>
              <line x1={c.cbLeft} x2={c.cbLeft + 4} y1={cb(t)} y2={cb(t)} stroke="#222" />
              <line x1={c.cbRight} x2={c.cbRight - 4} y1={cb(t)} y2={cb(t)} stroke="#222" />
            </>
          )}
          <text x={c.cbRight + 9} y={cb(t) + 5} fontFamily={SERIF} fontSize={15} fill="#111">{t}</text>
        </g>
      ))}
    </g>
  );
}

export default function App() {
  const colX = [8.5, 156, 737.5, 1318.5, 1897.5];
  const rowY = [6.5, 57, 457, 840];
  const colCenters = [446.5, 1028, 1608];
  return (
    <svg width={1901} height={829} style={{ position: 'absolute', left: 0, top: 0, display: 'block', background: '#fff' }}
      xmlns="http://www.w3.org/2000/svg">
      <rect x={0} y={0} width={1901} height={829} fill="#fff" />
      {rmsdPanels.map((c, i) => <RmsdPanel key={i} c={c} idx={i} />)}
      {hbPanels.map((c, i) => <HbPanel key={i} c={c} idx={i} />)}
      {colX.map((xv, i) => (
        <line key={`v${i}`} x1={xv} x2={xv} y1={rowY[0]} y2={rowY[3]} stroke="#000" strokeWidth={1.8} />
      ))}
      {rowY.slice(0, 3).map((yv, i) => (
        <line key={`h${i}`} x1={colX[0]} x2={colX[4]} y1={yv} y2={yv} stroke="#000" strokeWidth={1.8} />
      ))}
      {columnTitles.map((t, i) => (
        <text key={t} x={colCenters[i]} y={38} textAnchor="middle" fontFamily={SERIF} fontSize={30} fill="#000">{t}</text>
      ))}
      <text x={82} y={263} textAnchor="middle" fontFamily={SERIF} fontSize={27} fill="#000">{rowTitleRMSD}</text>
      {rowTitleHB.map((t, i) => (
        <text key={t} x={82} y={583 + i * 45.5} textAnchor="middle" fontFamily={SERIF} fontSize={27} fill="#000">{t}</text>
      ))}
    </svg>
  );
}
